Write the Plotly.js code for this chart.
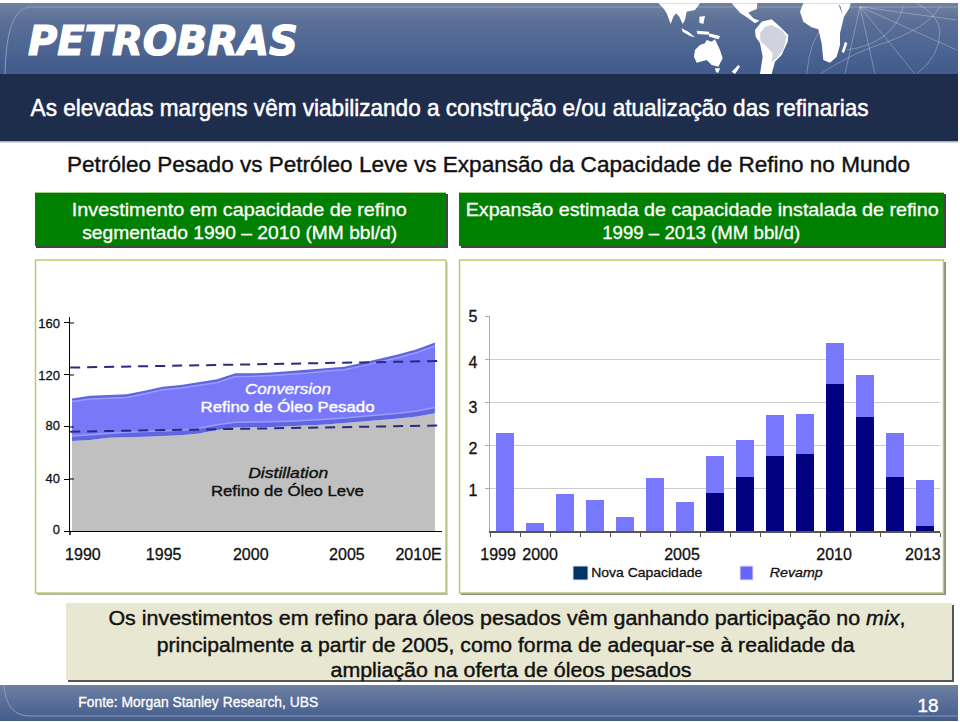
<!DOCTYPE html>
<html><head><meta charset="utf-8">
<script src="https://cdn.plot.ly/plotly-3.0.1.min.js"></script>
<style>html,body{margin:0;padding:0;background:#fff;overflow:hidden}
#wrap{position:relative;width:960px;height:722px}
#bg{position:absolute;left:0;top:0;z-index:0}
#chart{position:absolute;left:0;top:0;width:960px;height:722px;z-index:1}
.xtick text,.ytick text,.x2tick text,.y2tick text{stroke:#111;stroke-width:.3px}</style>
</head><body><div id="wrap">
<svg id="bg" width="960" height="722" xmlns="http://www.w3.org/2000/svg">
<defs><linearGradient id="hg" x1="0" y1="0" x2="0" y2="1"><stop offset="0" stop-color="#70829f"/><stop offset=".25" stop-color="#5b7098"/><stop offset="1" stop-color="#3f5a8c"/></linearGradient>
<linearGradient id="fg" x1="0" y1="0" x2="0" y2="1"><stop offset="0" stop-color="#6d80a3"/><stop offset="1" stop-color="#435c8c"/></linearGradient></defs>
<rect x="0" y="3" width="958" height="72" fill="url(#hg)"/>
<path d="M5 75 Q6 8 30 7 L958 7" fill="none" stroke="#8c9cb8" stroke-width="1"/>
<g transform="translate(640,0) scale(.33333)">
<g fill="none" stroke="#fff" stroke-opacity=".28" stroke-width="3">
<path d="M660 20L705 222M660 20L615 222M660 20L825 222M660 20L950 150M660 20L950 60M500 222Q510 110 560 70M540 222Q620 170 700 140Q860 90 900 20M830 222Q900 170 900 90Q890 40 830 10"/>
<path d="M620 150Q760 130 790 20"/></g>
<g fill="#fff">
<path d="M55 10L180 10L165 30L140 35L135 60L128 72L118 50L108 40L100 50L92 72L80 40L70 25Z"/>
<path d="M125 85L145 95L165 112L150 108L128 95ZM170 92L208 95L205 104L172 102ZM178 50L195 48L190 72L178 68ZM205 100L240 108L236 118L208 110Z"/>
<path d="M165 150L180 135L195 130L200 120L215 125L225 118L240 150L248 175L235 200L215 195L200 180L170 188L162 170ZM225 205L240 205L235 218L228 217ZM275 215L295 195L300 200L285 222Z"/>
<path d="M275 10L352 10L350 28L335 33L325 38L340 55L358 62L345 70L325 55L300 38L288 25Z"/>
<path d="M345 90L365 65L395 58L420 80L445 105L443 125L425 165L405 185L395 222L360 222L368 170L360 130L347 110Z"/>
<path d="M480 35L490 10L632 10L628 25L612 50L600 100L600 135L590 170L570 188L550 180L545 130L535 88L515 82L490 65Z"/>
<path d="M605 155L615 125L622 130L612 160Z"/></g>
<path d="M360 100L375 80L395 75L425 90L440 110L430 150L410 175L395 185L398 160L375 135L362 125Z" fill="#d0d3de"/>
<path d="M595 12L608 45L602 20Z" fill="#5b7098"/></g>
<rect x="0" y="685" width="958" height="36" fill="url(#fg)"/>
<path d="M4 685Q6 716 30 716L958 716" fill="none" stroke="#8c9cb8" stroke-width="1"/>
</svg>
<div id="chart"></div></div>
<script>
// Left chart data: refining investment 1990-2010
var areaYears=[1990,1991,1992,1993,1994,1995,1996,1997,1998,1999,2000,2001,2002,2003,2004,2005,2006,2007,2008,2009,2010];
var distillation=[69.2,70,71.8,72,72.5,73,73.6,75,77.7,79.7,79.7,80,80.5,81,82,83,84,85,86.5,88,90.5];
var conversionTop=[102,104,104.6,105.1,107.9,111,112.3,114.4,116.7,121.3,121.3,122,123,124,125.5,126.4,129.5,132.8,135.9,139.8,144.9];
var conversionInnerTop=[99.6,101.6,102.2,102.7,105.5,108.6,110,112,114.2,118.9,119,119.7,120.6,121.6,123.1,124,127,130.3,133.4,137.3,142.3];
var conversionInnerBottom=[73,74,75.5,76,76.5,77,77.5,79,81.8,83.6,83.6,84,84.5,85,86,87,88,89,90.5,92.3,95];
var dashYears=[1989.9,2010.5];
var dashUpper=[125.7,130.8];
var dashLower=[76.4,81.2];
var leftTickText=["1990","1995","2000","2005","2010E"];
var leftTickPos=[1990.6,1995.05,1999.85,2005.15,2009.1];
var leftYValues=[0,40,80,120,160];
var leftYLabelPos=[1.5,40.5,81,120,160];
// Right chart data: estimated capacity expansion 1999-2013
var barYears=[1999,2000,2001,2002,2003,2004,2005,2006,2007,2008,2009,2010,2011,2012,2013];
var novaCapacidade=[0,0,0,0,0,0,0,0.88,1.26,1.75,1.80,3.42,2.65,1.26,0.12];
var revamp=[2.29,0.18,0.86,0.72,0.33,1.23,0.68,0.87,0.86,0.95,0.92,0.95,0.98,1.03,1.06];
var barBoundaries=[1998.5,1999.5,2000.5,2001.5,2002.5,2003.5,2004.5,2005.5,2006.5,2007.5,2008.5,2009.5,2010.5,2011.5,2012.5,2013.5];
var rightTickText=["1999","2000","2005","2010","2013"];
var rightTickPos=[1998.77,2000.17,2004.9,2009.97,2012.93];
var rightYValues=[1,2,3,4,5];
var rightYLabelPos=[0.95,1.93,2.88,3.93,4.98];

var FONT="Liberation Sans, Arial, sans-serif";
function fx(p){return p/960;} function fy(p){return 1-p/722;}
function rect(x0,y0,x1,y1,fill,line,lw,layer){return {type:'rect',xref:'paper',yref:'paper',x0:fx(x0),x1:fx(x1),y0:fy(y0),y1:fy(y1),fillcolor:fill,line:{color:line||'rgba(0,0,0,0)',width:lw||0},layer:layer||'below'};}
var shapes=[
 rect(0,74,958,141,'#1f2d4d'), rect(0,141,958,142.5,'#aab0bd'),
 rect(36,194,448,248,'#444'), rect(35,192,446,246,'#008000'), rect(35,192,446,193,'#a4cf8e'),
 rect(461,194,946,248,'#444'), rect(459,192,944,246,'#008000'), rect(459,192,944,193,'#a4cf8e'),
 rect(37,262,447.5,595,'#b5b5b5'), rect(35.5,260,446,593,'#fff','#b9cc6c',1.5),
 rect(461,262,946,595,'#8a8a8a'), rect(459.5,260,943.5,593,'#fff','#b9cc6c',1.5),
 rect(68,605,954,682,'#555'), rect(66,603,952,680,'#e8e8d2')
];
// legend swatches
shapes.push(rect(573,566,588,580,'#003366','#dfe3ee',1,'above'));
shapes.push(rect(740,566,753,580,'#6666ff','#dfe3ee',1,'above'));
// crossing ticks on the left axis
leftYValues.slice(1).forEach(function(v){shapes.push({type:'line',xref:'paper',yref:'y',x0:fx(70),x1:fx(74),y0:v,y1:v,line:{color:'#000',width:1},layer:'above'});});
shapes.push({type:'line',xref:'paper',yref:'paper',x0:fx(70),x1:fx(70),y0:fy(531),y1:fy(535),line:{color:'#000',width:1.5},layer:'above'});

var widths={},strokes={};var anns=[];
function T(text,x0,x1,cy,size,color,o){o=o||{};
 anns.push({text:text,xref:'paper',yref:'paper',x:fx((x0+x1)/2),y:fy(cy),xanchor:'center',yanchor:'middle',showarrow:false,align:'center',
  font:{family:o.family||FONT,size:size,color:color,weight:o.weight||400,style:o.style||'normal'}});
 var i=anns.length-1;widths[i]=x1-x0;strokes[i]=[color,o.stroke===undefined?0.3:o.stroke];}
T("PETROBRAS",28,298,41,40,'#fff',{family:'DejaVu Sans',weight:700,style:'italic',stroke:1.2});
T("As elevadas margens vêm viabilizando a construção e/ou atualização das refinarias",30,868,107,24,'#fff',{stroke:.5});
T("Petróleo Pesado vs Petróleo Leve vs Expansão da Capacidade de Refino no Mundo",67,910,164,22,'#111',{stroke:.4});
T("Investimento em capacidade de refino",72,407,209,18.5,'#fff');
T("segmentado 1990 – 2010 (MM bbl/d)",82,397,232,18.5,'#fff');
T("Expansão estimada de capacidade instalada de refino",465,938,209,18.5,'#fff');
T("1999 – 2013 (MM bbl/d)",602,800,232,18.5,'#fff');
T("Conversion",245,331,388,15,'#fff',{style:'italic'});
T("Refino de Óleo Pesado",200,374,407,15,'#fff',{stroke:.4});
T("Distillation",248,328,472,15,'#111',{style:'italic',stroke:.4});
T("Refino de Óleo Leve",211,364,491,15,'#111',{stroke:.4});
T("Nova Capacidade",591,702,572,13,'#111');
T("Revamp",769,822,572,13,'#111',{style:'italic'});
T("Os investimentos em refino para óleos pesados vêm ganhando participação no <i>mix</i>,",108,905,618,20,'#111',{stroke:.4});
T("principalmente a partir de 2005, como forma de adequar-se à realidade da",157,855,645,20,'#111',{stroke:.4});
T("ampliação na oferta de óleos pesados",330,691,670,20,'#111',{stroke:.4});
T("Fonte: Morgan Stanley Research, UBS",78,318,702,14.5,'#fff');
T("18",917,938,706,18,'#fff',{stroke:.4});

var none='rgba(0,0,0,0)';
var traces=[
 {x:areaYears,y:distillation,type:'scatter',mode:'lines',fill:'tozeroy',fillcolor:'#c0c0c0',line:{width:0,color:'#c0c0c0'},xaxis:'x',yaxis:'y'},
 {x:areaYears,y:conversionTop,type:'scatter',mode:'lines',fill:'tonexty',fillcolor:'#5f66e0',line:{width:0,color:'#5f66e0'},xaxis:'x',yaxis:'y'},
 {x:areaYears,y:conversionInnerBottom,type:'scatter',mode:'lines',line:{width:1.5,color:'#9a9cff'},xaxis:'x',yaxis:'y'},
 {x:areaYears,y:conversionInnerTop,type:'scatter',mode:'lines',fill:'tonexty',fillcolor:'#7878f8',line:{width:1.5,color:'#9a9cff'},xaxis:'x',yaxis:'y'},
 {x:dashYears,y:dashUpper,type:'scatter',mode:'lines',line:{width:2,color:'#2a2a80',dash:'10px,7px'},xaxis:'x',yaxis:'y'},
 {x:dashYears,y:dashLower,type:'scatter',mode:'lines',line:{width:2,color:'#2a2a80',dash:'10px,7px'},xaxis:'x',yaxis:'y'},
 {x:barYears,y:novaCapacidade,type:'bar',name:'Nova Capacidade',marker:{color:'#000080'},width:0.6,xaxis:'x2',yaxis:'y2'},
 {x:barYears,y:revamp,type:'bar',name:'Revamp',marker:{color:'#7878ff'},width:0.6,xaxis:'x2',yaxis:'y2'}
];
var tf={family:FONT,size:16,color:'#111'};
var layout={width:960,height:722,margin:{l:0,r:0,t:0,b:0},paper_bgcolor:none,plot_bgcolor:none,showlegend:false,barmode:'stack',hovermode:false,
 xaxis:{domain:[fx(70),fx(442)],range:[1989.89,2010.39],anchor:'y',showgrid:false,zeroline:false,showline:true,linecolor:'#000',linewidth:1,
  tickmode:'array',tickvals:leftTickPos,ticktext:leftTickText,ticks:'',tickfont:tf,ticklabelstandoff:9},
 yaxis:{domain:[fy(531),fy(317)],range:[0,164.6],anchor:'x',showgrid:false,zeroline:false,showline:true,linecolor:'#000',linewidth:1.5,
  tickmode:'array',tickvals:leftYLabelPos,ticktext:leftYValues.map(String),ticks:'',tickfont:{family:FONT,size:13,color:'#111'},ticklabelstandoff:6,
  minor:{tickmode:'array',tickvals:leftYValues,ticks:'outside',ticklen:5,tickcolor:'#000',tickwidth:1,showgrid:false}},
 xaxis2:{domain:[fx(490),fx(940)],range:[1998.5,2013.5],anchor:'y2',showgrid:false,zeroline:false,showline:true,linecolor:'#555',linewidth:1.5,
  tickmode:'array',tickvals:rightTickPos,ticktext:rightTickText,ticks:'',tickfont:tf,ticklabelstandoff:8,
  minor:{tickmode:'array',tickvals:barBoundaries,ticks:'outside',ticklen:4,tickcolor:'#555',tickwidth:1,showgrid:false}},
 yaxis2:{domain:[fy(531),fy(316)],range:[0,5],anchor:'x2',showgrid:false,zeroline:false,showline:true,linecolor:'#aaa',linewidth:1.5,
  tickmode:'array',tickvals:rightYLabelPos,ticktext:['1','2','3','4','5'],ticks:'',tickfont:{family:FONT,size:16,color:'#111'},ticklabelstandoff:8,
  minor:{tickmode:'array',tickvals:rightYValues,ticks:'outside',ticklen:4,tickcolor:'#aaa',tickwidth:1,showgrid:true,gridcolor:'#cdcdcd',gridwidth:1}},
 shapes:shapes,annotations:anns};
Plotly.newPlot('chart',traces,layout,{displayModeBar:false,staticPlot:true}).then(function(){
 document.querySelectorAll('.annotation').forEach(function(a){
  var i=a.getAttribute('data-index'),t=a.querySelector('text');
  if(t&&widths[i]){t.setAttribute('textLength',widths[i]);t.setAttribute('lengthAdjust','spacingAndGlyphs');
   t.style.stroke=strokes[i][0];t.style.strokeWidth=strokes[i][1]+'px';}
 });
});
</script></body></html>
